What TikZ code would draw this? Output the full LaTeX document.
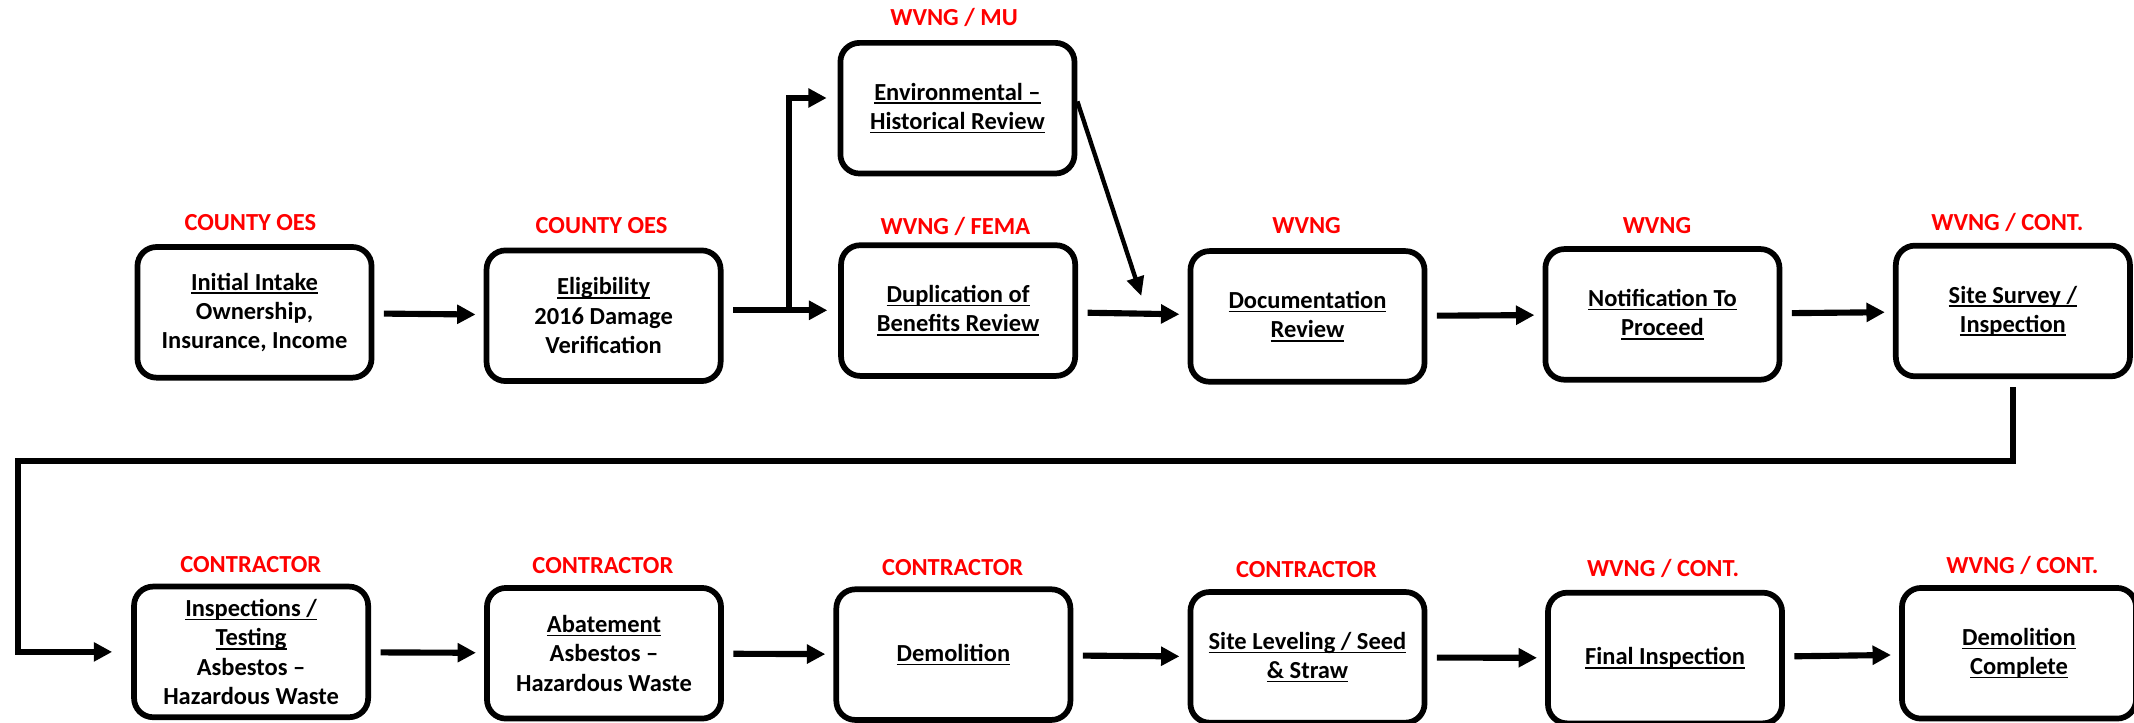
\documentclass[tikz,border=0pt]{standalone}
\usepackage{fontspec}
\setmainfont{Carlito}
\usetikzlibrary{arrows.meta}

\newcommand\ulined[1]{\leavevmode\setbox0=\hbox{#1}\rlap{\rule[-2.8pt]{\wd0}{1.2pt}}\box0}

\begin{document}
\begin{tikzpicture}[x=1pt,y=1pt,
    stage/.style={draw,line width=4.2pt,rounded corners=14pt,minimum width=172pt,minimum height=96pt,
      align=center,inner sep=2pt,font=\fontsize{18}{21.5}\selectfont\bfseries},
    owner/.style={anchor=base,text=red,inner sep=0pt,font=\fontsize{18}{21.5}\selectfont\bfseries},
    wire/.style={line width=4.5pt},
    tipped/.style={-{Triangle[length=13.5pt,width=13.5pt]}},
    flow/.style={wire,tipped,shorten <=7pt,shorten >=6pt},
    slim/.style={line width=3.2pt,-{Triangle[length=14pt,width=12.5pt]}}]
  \useasboundingbox (0,0) rectangle (1568,531);

  % top row
  \node[stage] (intake) at (187,301.5) {\ulined{Initial Intake}\\Ownership,\\Insurance, Income};
  \node[stage] (elig) at (443.5,299) {\ulined{Eligibility}\\2016 Damage\\Verification};
  \node[stage] (enviro) at (703.5,451.5) {\ulined{Environmental --}\\\ulined{Historical Review}};
  \node[stage] (dupl) at (704,302.8) {\ulined{Duplication of}\\\ulined{Benefits Review}};
  \node[stage] (docrev) at (960.7,298.5) {\ulined{Documentation}\\\ulined{Review}};
  \node[stage] (notice) at (1221.5,300) {\ulined{Notification To}\\\ulined{Proceed}};
  \node[stage] (survey) at (1479,302.5) {\ulined{Site Survey /}\\\ulined{Inspection}};

  % bottom row
  \node[stage] (testing) at (184.5,52) {\ulined{Inspections /}\\\ulined{Testing}\\Asbestos --\\Hazardous Waste};
  \node[stage] (abate) at (443.8,51) {\ulined{Abatement}\\Asbestos --\\Hazardous Waste};
  \node[stage] (demo) at (700.5,50) {\ulined{Demolition}};
  \node[stage] (level) at (960.7,48) {\ulined{Site Leveling / Seed}\\\ulined{\& Straw}};
  \node[stage] (final) at (1223.4,47.5) {\ulined{Final Inspection}};
  \node[stage] (done) at (1483.5,51) {\ulined{Demolition}\\\ulined{Complete}};

  % who does it
  \node[owner] (intake-who) at (184,362) {COUNTY OES};
  \node[owner] (elig-who) at (442,359.5) {COUNTY OES};
  \node[owner] (enviro-who) at (701,512) {WVNG / MU};
  \node[owner] (dupl-who) at (702,358.8) {WVNG / FEMA};
  \node[owner] (docrev-who) at (960,359.5) {WVNG};
  \node[owner] (notice-who) at (1217.5,359.5) {WVNG};
  \node[owner] (survey-who) at (1475,362) {WVNG / CONT.};
  \node[owner] (testing-who) at (184.3,110.5) {CONTRACTOR};
  \node[owner] (abate-who) at (443,109.5) {CONTRACTOR};
  \node[owner] (demo-who) at (700,108.5) {CONTRACTOR};
  \node[owner] (level-who) at (960,106.5) {CONTRACTOR};
  \node[owner] (final-who) at (1222,107.5) {WVNG / CONT.};
  \node[owner] (done-who) at (1486,109.5) {WVNG / CONT.};

  % arrows
  \coordinate (fork) at (580,303);
  \coordinate (bend) at (13,192);
  \draw[flow] (intake) -- (elig);
  \draw[wire,tipped,shorten >=8pt] (elig.east) ++(7,4) -- (fork) |- ([yshift=7.5pt]enviro.west);
  \draw[wire,tipped,shorten >=8pt] (fork) -- (fork -| dupl.west);
  \draw[slim] ([yshift=5pt]enviro.east) -- ([shift={(-34pt,15pt)}]docrev.west);
  \draw[flow] (dupl) -- (docrev);
  \draw[flow] (docrev) -- (notice);
  \draw[flow] (notice) -- (survey);
  \draw[wire,tipped] ([yshift=-6pt]survey.south) |- (bend) |- ([xshift=-14pt]testing.west);
  \draw[flow] (testing) -- (abate);
  \draw[flow] (abate) -- (demo);
  \draw[flow] (demo) -- (level);
  \draw[flow] (level) -- (final);
  \draw[flow] (final) -- (done);
\end{tikzpicture}
\end{document}
